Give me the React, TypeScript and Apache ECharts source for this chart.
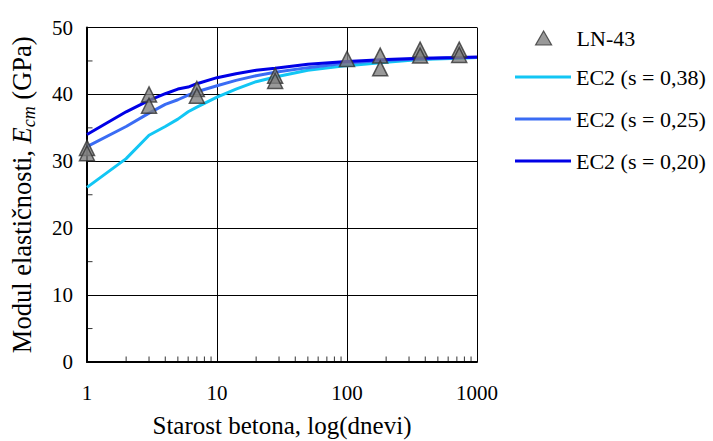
import React, { useEffect, useRef } from "react";
import * as echarts from "echarts";

const FONT = "'Liberation Serif', 'Times New Roman', serif";

const lineDays = [1, 2, 3, 4, 5, 6, 7, 10, 14, 20, 28, 50, 100, 200, 365, 730, 1000];
const ec2s038 = [26.1, 30.4, 33.9, 35.2, 36.3, 37.4, 38.1, 39.6, 40.8, 41.9, 42.6, 43.6, 44.3, 44.8, 45.2, 45.4, 45.5];
const ec2s025 = [32.2, 35.2, 37.2, 38.5, 39.2, 39.9, 40.4, 41.3, 42.1, 42.8, 43.3, 44.0, 44.7, 45.1, 45.3, 45.5, 45.5];
const ec2s020 = [34.0, 37.4, 39.1, 40.1, 40.8, 41.1, 41.6, 42.5, 43.1, 43.6, 43.9, 44.5, 44.9, 45.2, 45.4, 45.5, 45.6];

const measDays = [1, 1, 3, 3, 7, 7, 28, 28, 100, 180, 180, 365, 365, 730, 730];
const measEcm = [32.0, 31.2, 40.0, 38.3, 40.8, 39.8, 42.8, 42.0, 45.3, 45.8, 43.9, 46.7, 45.8, 46.7, 45.9];

const xMinorTicks = [2, 3, 4, 5, 6, 7, 8, 9, 20, 30, 40, 50, 60, 70, 80, 90, 200, 300, 400, 500, 600, 700, 800, 900];
const yMinorTicks = [5, 15, 25, 35, 45];

const seriesNames = ["LN-43", "EC2 (s = 0,38)", "EC2 (s = 0,25)", "EC2 (s = 0,20)"];
const lineColors = ["#12c6f4", "#3a6cf4", "#0000e6"];

// line legend icon in a 56 x 14 box (tiny corner dots fix the bounding box)
const LINE_ICON = "path://M0,0 L0.01,0 L0.01,0.01 Z M0,5.5 L56,5.5 L56,8.5 L0,8.5 Z M56,14 L55.99,14 L55.99,13.99 Z";

export default function App() {
  const ref = useRef<HTMLDivElement>(null);
  useEffect(() => {
    if (!ref.current) return;
    const chart = echarts.init(ref.current, null, { renderer: "svg" });
    const pair = (ys: number[]) => lineDays.map((d, i) => [d, ys[i]]);
    const lines = [ec2s038, ec2s025, ec2s020];
    chart.setOption({
      animation: false,
      backgroundColor: "#ffffff",
      textStyle: { fontFamily: FONT, color: "#000" },
      grid: { left: 87, right: 236, top: 27.5, bottom: 79, containLabel: false, outerBoundsMode: "none" },
      legend: [
        {
          orient: "vertical",
          left: 535,
          top: 27,
          padding: 0,
          itemWidth: 16,
          itemHeight: 14,
          data: [{ name: seriesNames[0], icon: "triangle" }],
          itemStyle: { color: "#7f7f7f", borderColor: "#333", borderWidth: 1.2 },
          textStyle: { fontFamily: FONT, fontSize: 22, color: "#000", padding: [0, 0, 0, 20] },
        },
        {
          orient: "vertical",
          left: 515,
          top: 66,
          padding: 0,
          itemWidth: 56,
          itemHeight: 14,
          itemGap: 20,
          data: lineColors.map((c, k) => ({
            name: seriesNames[k + 1],
            icon: LINE_ICON,
            itemStyle: { color: c, borderWidth: 0 },
          })),
          textStyle: { fontFamily: FONT, fontSize: 22, color: "#000" },
        },
      ],
      xAxis: {
        type: "log",
        logBase: 10,
        min: 1,
        max: 1000,
        name: "Starost betona, log(dnevi)",
        nameLocation: "middle",
        nameGap: 51,
        nameTextStyle: { fontFamily: FONT, fontSize: 25, color: "#000" },
        axisLine: { lineStyle: { color: "#000", width: 2 } },
        axisTick: { show: true, inside: true, length: 5, lineStyle: { color: "#000" } },
        axisLabel: { fontFamily: FONT, fontSize: 21, color: "#000", margin: 20, formatter: (v: number) => String(Math.round(v)) },
        splitLine: { show: true, lineStyle: { color: "#000", width: 1 } },
      },
      yAxis: {
        type: "value",
        min: 0,
        max: 50,
        interval: 10,
        name: "{n|Modul elastičnosti, }{i|E}{sub|cm}{n| (GPa)}",
        nameLocation: "middle",
        nameGap: 49,
        nameTextStyle: {
          fontFamily: FONT,
          fontSize: 26.5,
          color: "#000",
          rich: {
            n: { fontFamily: FONT, fontSize: 26.5, color: "#000", lineHeight: 33 },
            i: { fontFamily: FONT, fontSize: 26.5, fontStyle: "italic", color: "#000", lineHeight: 33 },
            sub: { fontFamily: FONT, fontSize: 18, fontStyle: "italic", color: "#000", verticalAlign: "bottom" },
          },
        },
        axisLine: { show: true, lineStyle: { color: "#000", width: 2 } },
        axisTick: { show: true, inside: true, length: 5, lineStyle: { color: "#000" } },
        axisLabel: { fontFamily: FONT, fontSize: 21, color: "#000", margin: 14 },
        splitLine: { show: true, lineStyle: { color: "#000", width: 1 } },
      },
      series: [
        ...lines.map((ys, k) => ({
          name: seriesNames[k + 1],
          type: "line",
          data: pair(ys),
          symbol: "none",
          smooth: false,
          lineStyle: { color: lineColors[k], width: 3 },
          itemStyle: { color: lineColors[k] },
          z: 3 + k,
        })),
        {
          name: "xminor",
          type: "scatter",
          data: xMinorTicks.map((d) => [d, 0]),
          symbol: "rect",
          symbolSize: [1, 5],
          symbolOffset: [0, -3],
          itemStyle: { color: "#000" },
          silent: true,
          clip: false,
          z: 2,
        },
        {
          name: "yminor",
          type: "scatter",
          data: yMinorTicks.map((v) => [1, v]),
          symbol: "rect",
          symbolSize: [5, 1],
          symbolOffset: [3, 0],
          itemStyle: { color: "#000" },
          silent: true,
          clip: false,
          z: 2,
        },
        {
          name: seriesNames[0],
          type: "scatter",
          data: measDays.map((d, i) => [d, measEcm[i]]),
          symbol: "triangle",
          symbolSize: [15, 15],
          itemStyle: { color: "#7f7f7f", borderColor: "#333", borderWidth: 1.5 },
          clip: false,
          z: 10,
        },
      ],
    });
    return () => chart.dispose();
  }, []);
  return <div ref={ref} style={{ position: "fixed", left: 0, top: 0, width: 713, height: 441 }} />;
}
